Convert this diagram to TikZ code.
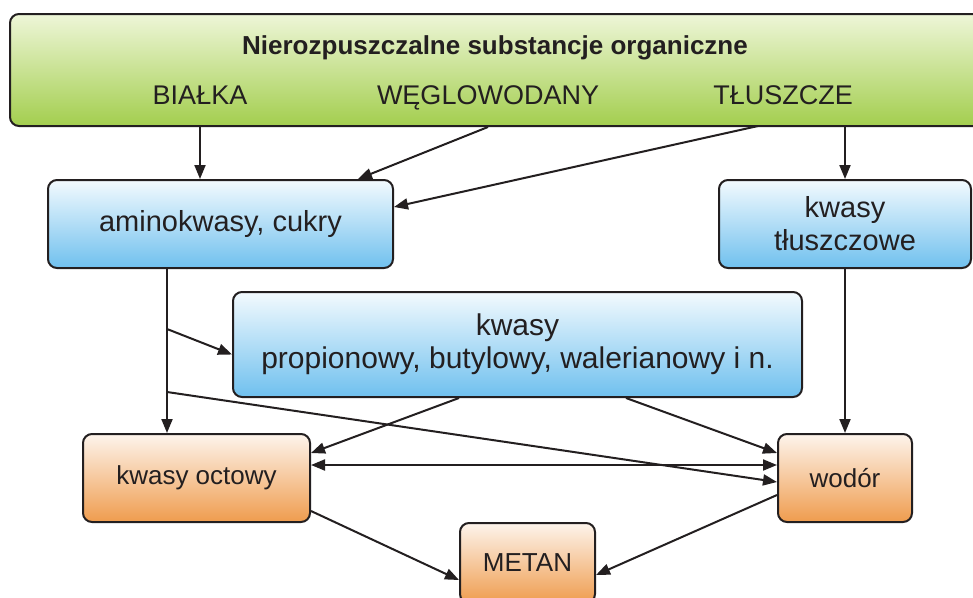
\documentclass[tikz,border=0pt]{standalone}
\usepackage{fontspec}
\setmainfont{Liberation Sans}
\usepackage{tikz}
\usetikzlibrary{arrows.meta,calc,positioning}
\definecolor{ink}{HTML}{231F20}
\definecolor{greentop}{HTML}{EEF6D8}
\definecolor{greenbot}{HTML}{A3CE4E}
\definecolor{bluetop}{HTML}{F3FAFE}
\definecolor{bluebot}{HTML}{6FC0EE}
\definecolor{orangetop}{HTML}{FDF4EC}
\definecolor{orangebot}{HTML}{EF9C4E}

\begin{document}
\begin{tikzpicture}[x=1pt,y=-1pt,
    txt/.style={text=ink,font=\fontsize{26}{33}\selectfont,inner sep=0pt},
    box/.style={txt,draw=ink,line width=2pt,rounded corners=9pt,align=center},
    greenbox/.style={box,top color=greentop,bottom color=greenbot},
    bluebox/.style={box,font=\fontsize{29}{33}\selectfont,top color=bluetop,bottom color=bluebot},
    orangebox/.style={box,top color=orangetop,bottom color=orangebot},
    arr/.style={draw=ink,line width=2pt,-{Triangle[length=14pt,width=11pt]}},
    darr/.style={arr,{Triangle[length=14pt,width=11pt]}-{Triangle[length=14pt,width=11pt]}}]
      \useasboundingbox (0,0) rectangle (973,597);
      \clip (0,0) rectangle (973,597);

      \node[greenbox,minimum width=975pt,minimum height=112pt] (top) at (497.5,70) {};
      \node[txt,font=\fontsize{26}{33}\selectfont\bfseries,anchor=base] (title) at (495,54) {Nierozpuszczalne substancje organiczne};
      \node[txt,font=\fontsize{27}{33}\selectfont,anchor=base] (bialka) at (200,104) {BIAŁKA};
      \node[txt,font=\fontsize{27}{33}\selectfont,anchor=base] (wegl) at (488,104) {WĘGLOWODANY};
      \node[txt,font=\fontsize{27}{33}\selectfont,anchor=base] (tluszcze) at (783,104) {TŁUSZCZE};

      \node[bluebox,minimum width=345pt,minimum height=88pt] (amino) at (220.5,224) {aminokwasy, cukry};
      \node[bluebox,minimum width=252pt,minimum height=88pt] (ktl) at (845,224) {kwasy\\tłuszczowe};
      \node[bluebox,font=\fontsize{30}{33}\selectfont,minimum width=569pt,minimum height=105pt] (prop) at (517.5,344.5)
        {kwasy\\propionowy, butylowy, walerianowy i n.};

      \node[orangebox,minimum width=227pt,minimum height=88pt] (octowy) at (196.5,478) {kwasy octowy};
      \node[orangebox,minimum width=134pt,minimum height=88pt] (wodor) at (845,478) {wodór};
      \node[orangebox,minimum width=135pt,minimum height=80pt] (metan) at (527.5,563) {METAN};

      \coordinate (g3) at (758,126);
      \coordinate (j1) at (167,329);
      \coordinate (j2) at (167,392);

      \draw[arr] (top.south -| bialka) -- (amino.north -| bialka);
      \draw[arr] (top.south -| wegl) -- ($(amino.north east)+(-36,0)$);
      \draw[arr] (g3) -- ($(amino.east)+(0,-17)$);
      \draw[arr] (top.south -| ktl) -- (ktl.north);

      \draw[arr] (amino.south -| j1) -- (octowy.north -| j1);
      \draw[arr] (j1) -- ($(prop.west)+(0,10)$);
      \draw[arr] (j2) -- ($(wodor.west)+(0,4)$);
      \draw[arr] (ktl.south) -- (wodor.north);

      \draw[arr] ($(prop.south west)+(227,0)$) -- ($(octowy.east)+(0,-25)$);
      \draw[arr] ($(prop.south west)+(394,0)$) -- ($(wodor.west)+(0,-25)$);
      \draw[darr] ($(octowy.east)+(0,-13)$) -- ($(wodor.west)+(0,-13)$);

      \draw[arr] ($(octowy.east)+(0,33)$) -- ($(metan.west)+(0,17)$);
      \draw[arr] ($(wodor.west)+(0,17)$) -- ($(metan.east)+(0,12)$);
\end{tikzpicture}
\end{document}
